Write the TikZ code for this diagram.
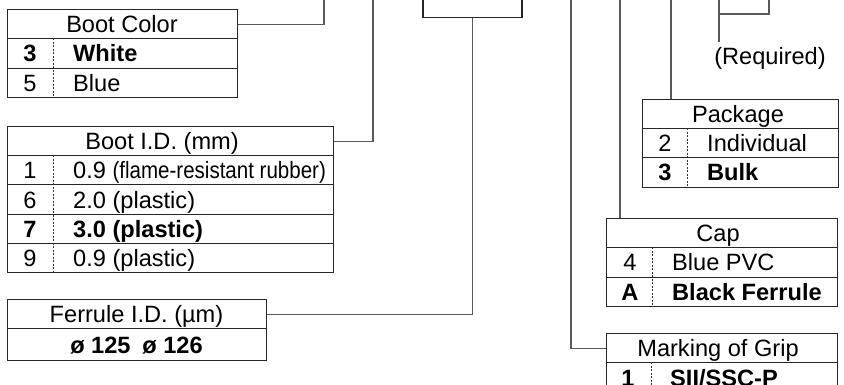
\documentclass[tikz,border=0pt]{standalone}
\usepackage{graphicx}
\usepackage{fontspec}
\setmainfont{Liberation Sans}
\begin{document}
\begin{tikzpicture}[x=1pt,y=-1pt,
  rect/.style={draw=black!85, line width=1.1pt, inner sep=0pt, anchor=north west},
  conn/.style={draw=black!65, line width=1.1pt},
  dv/.style={draw=black!80, line width=0.7pt, dash pattern=on 2pt off 1.5pt},
  txt/.style={anchor=base, inner sep=0pt, font=\fontsize{23.6}{28}\selectfont},
  itm/.style={anchor=base west, inner sep=0pt, font=\fontsize{23.6}{28}\selectfont},
  bx/.style={font=\fontsize{23.6}{28}\selectfont\bfseries}
]
\useasboundingbox (0,0) rectangle (844,385);
\clip (0,0) rectangle (844,385);

% ---------- Boot Color ----------
\node[rect, minimum width=230pt, minimum height=29.3pt] (bcH) at (7,9) {};
\node[rect, minimum width=230pt, minimum height=29.3pt] (bc1) at (7,38.3) {};
\node[rect, minimum width=230pt, minimum height=29.3pt] (bc2) at (7,67.6) {};
\draw[dv] (53,38.3) -- (53,96.9);
\node[txt] (bcT) at (122,32.6) {Boot Color};
\node[txt, bx] (bc1n) at (30,62) {3};
\node[itm, bx] (bc1t) at (73,62) {White};
\node[txt] (bc2n) at (30,91.3) {5};
\node[itm] (bc2t) at (73,91.3) {Blue};

% ---------- Boot I.D. ----------
\node[rect, minimum width=326pt, minimum height=29.2pt] (biH) at (7,126) {};
\node[rect, minimum width=326pt, minimum height=29.2pt] (bi1) at (7,155.2) {};
\node[rect, minimum width=326pt, minimum height=29.2pt] (bi2) at (7,184.4) {};
\node[rect, minimum width=326pt, minimum height=29.2pt] (bi3) at (7,213.6) {};
\node[rect, minimum width=326pt, minimum height=29.2pt] (bi4) at (7,242.8) {};
\draw[dv] (53,155.2) -- (53,272);
\node[txt] (biT) at (162,149.6) {Boot I.D. (mm)};
\node[txt] (bi1n) at (30,178.8) {1};
\node[itm] (bi1t) at (73,178.8) {0.9 \scalebox{0.87}[1]{(flame-resistant rubber)}};
\node[txt] (bi2n) at (30,208) {6};
\node[itm] (bi2t) at (73,208) {2.0 (plastic)};
\node[txt, bx] (bi3n) at (30,237.2) {7};
\node[itm, bx] (bi3t) at (73,237.2) {3.0 (plastic)};
\node[txt] (bi4n) at (30,266.4) {9};
\node[itm] (bi4t) at (73,266.4) {0.9 (plastic)};

% ---------- Ferrule I.D. ----------
\node[rect, minimum width=259pt, minimum height=29pt] (feH) at (7,299) {};
\node[rect, minimum width=259pt, minimum height=32pt] (fe1) at (7,328) {};
\node[txt] (feT) at (136.5,322.6) {Ferrule I.D. (µm)};
\node[txt, bx] (fe1t) at (136.5,353) {ø 125\enspace ø 126};

% ---------- top box (cut by the top edge) ----------
\node[draw=black!85, line width=1.1pt, inner sep=0pt, minimum width=99pt, minimum height=40pt, anchor=south] (box) at (472.5,18) {};

% ---------- Package ----------
\node[rect, minimum width=196pt, minimum height=29.2pt] (pkH) at (642,99) {};
\node[rect, minimum width=196pt, minimum height=29.2pt] (pk1) at (642,128.2) {};
\node[rect, minimum width=196pt, minimum height=29.2pt] (pk2) at (642,157.4) {};
\draw[dv] (687,128.2) -- (687,186.6);
\node[txt] (pkT) at (738,122.6) {Package};
\node[txt] (pk1n) at (665,151.8) {2};
\node[itm] (pk1t) at (707,151.8) {Individual};
\node[txt, bx] (pk2n) at (665,181) {3};
\node[itm, bx] (pk2t) at (707,181) {Bulk};

% ---------- Cap ----------
\node[rect, minimum width=231pt, minimum height=29.3pt] (cpH) at (606,218) {};
\node[rect, minimum width=231pt, minimum height=29.3pt] (cp1) at (606,247.3) {};
\node[rect, minimum width=231pt, minimum height=29.3pt] (cp2) at (606,276.6) {};
\draw[dv] (652,247.3) -- (652,305.9);
\node[txt] (cpT) at (718,241.6) {Cap};
\node[txt] (cp1n) at (630,270.9) {4};
\node[itm] (cp1t) at (672,270.9) {Blue PVC};
\node[txt, bx] (cp2n) at (630,300.2) {A};
\node[itm, bx] (cp2t) at (672,300.2) {Black Ferrule};

% ---------- Marking of Grip ----------
\node[rect, minimum width=231pt, minimum height=29.3pt] (mkH) at (606,333) {};
\node[rect, minimum width=231pt, minimum height=29.3pt] (mk1) at (606,362.3) {};
\draw[dv] (651,362.3) -- (651,392);
\node[txt] (mkT) at (718,356.6) {Marking of Grip};
\node[txt, bx] (mk1n) at (628,386) {1};
\node[itm, bx] (mk1t) at (670,386) {SII/SSC-P};

% ---------- (Required) ----------
\node[txt] (rqT) at (770,65) {(Required)};

% ---------- connectors ----------
\coordinate (t1) at (324,-5);
\coordinate (t2) at (373,-5);
\coordinate (t4) at (571,-5);
\coordinate (t5) at (620,-5);
\coordinate (t6) at (671,-5);
\coordinate (t7) at (719,-5);
\coordinate (t8) at (769,-5);
\coordinate (rq) at (719,42);
\coordinate (jn) at (719,14);

\draw[conn] (bcH.east) -| (t1);
\draw[conn] (biH.east) -| (t2);
\draw[conn] (feH.east) -| (box.south);
\draw[conn] (mkH.west) -| (t4);
\draw[conn] (t5) -- (t5 |- cpH.north);
\draw[conn] (t6) -- (t6 |- pkH.north);
\draw[conn] (t7) -- (rq);
\draw[conn] (t8) |- (jn);
\end{tikzpicture}
\end{document}
